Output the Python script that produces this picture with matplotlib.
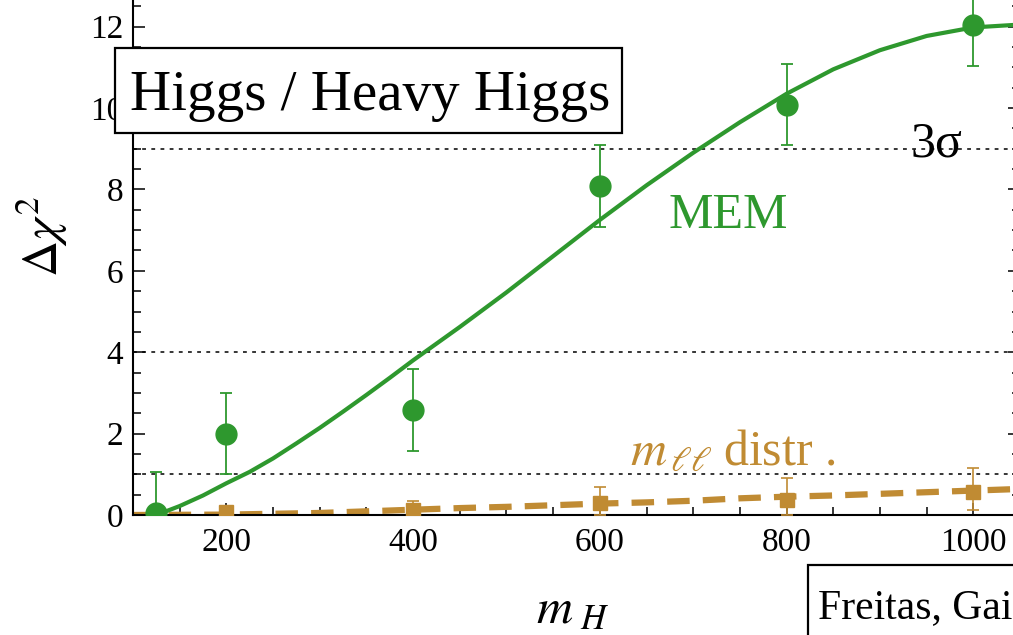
import numpy as np
import matplotlib
matplotlib.use('Agg')
import matplotlib.pyplot as plt
from matplotlib.patches import Rectangle

plt.rcParams['font.family'] = ['Liberation Serif', 'DejaVu Serif']
plt.rcParams['mathtext.fontset'] = 'stix'

# pontos MEM (verde)
mem_x = [125, 200, 400, 600, 800, 1000]
mem_y = [0.05, 2.0, 2.58, 8.08, 10.08, 12.03]
mem_err = [1.0, 1.0, 1.0, 1.0, 1.0, 1.0]

# curva ajustada MEM
fit_x = [125, 150, 175, 200, 225, 250, 275, 300, 325, 350, 375, 400, 450, 500,
         550, 600, 650, 700, 750, 800, 850, 900, 950, 1000, 1050]
fit_y = [0.0, 0.22, 0.48, 0.78, 1.06, 1.39, 1.76, 2.14, 2.54, 2.95, 3.37, 3.8,
         4.62, 5.47, 6.36, 7.25, 8.1, 8.9, 9.65, 10.35, 10.95, 11.42, 11.77,
         11.98, 12.05]

# pontos m_ll (laranja)
mll_x = [125, 200, 400, 600, 800, 1000]
mll_y = [0.02, 0.07, 0.13, 0.29, 0.37, 0.57]
mll_err_lo = [0.02, 0.07, 0.13, 0.29, 0.37, 0.45]
mll_err_hi = [0.1, 0.15, 0.22, 0.39, 0.53, 0.58]

# curva tracejada m_ll
mfit_x = [100, 200, 250, 300, 350, 400, 450, 500, 550, 600, 650, 700, 750, 800,
          850, 900, 950, 1000, 1050]
mfit_y = [0.0, 0.01, 0.03, 0.05, 0.09, 0.13, 0.17, 0.2, 0.24, 0.28, 0.31, 0.35,
          0.41, 0.45, 0.48, 0.52, 0.56, 0.6, 0.64]

# linhas de referencia
sigma_lines = [1, 4, 9]

verde = '#2e982e'
laranja = '#c08b33'

fig = plt.figure(figsize=(10.13, 6.35), dpi=100)
ax = fig.add_axes([133/1013, 120/635, 887/1013, 13*40.7/635])

for s in sigma_lines:
    ax.axhline(s, color='black', lw=1.1, ls=(0, (2.5, 3.5)), zorder=1)

ax.plot(mfit_x, mfit_y, color=laranja, lw=4.5, dashes=(3.6, 2.1), zorder=2)
ax.errorbar(mll_x, mll_y, yerr=[mll_err_lo, mll_err_hi], fmt='s', color=laranja,
            ms=10, elinewidth=1.2, capsize=4, capthick=1.2, zorder=3)

ax.plot(fit_x, fit_y, color=verde, lw=3, zorder=4)
ax.errorbar(mem_x, mem_y, yerr=mem_err, fmt='o', color=verde, ms=15,
            elinewidth=1.3, capsize=4.5, capthick=1.3, zorder=5)

ax.set_xlim(100, 1050)
ax.set_ylim(0, 13)
ax.set_xticks([200, 400, 600, 800, 1000])
ax.set_xticks(np.arange(100, 1051, 50), minor=True)
ax.set_yticks([0, 2, 4, 6, 8, 10, 12])
ax.set_yticks(np.arange(0, 13.01, 0.5), minor=True)
ax.tick_params(which='both', direction='in', right=True, top=False, width=1.1,
               labelsize=24)
ax.tick_params(which='major', length=8.5)
ax.tick_params(which='minor', length=5.5)
ax.tick_params(axis='y', pad=7)
ax.tick_params(axis='x', pad=9)
ax.spines['top'].set_visible(False)
for sp in ['left', 'bottom', 'right']:
    ax.spines[sp].set_linewidth(1.5)

ax.text(737, 7.05, 'MEM', color=verde, fontsize=36, ha='center', va='baseline')
ax.text(960, 8.8, '3σ', color='black', fontsize=36, ha='center', va='baseline')
ax.text(632, 1.23, r'$m_{\,\ell\ell}\;$distr .', color=laranja, fontsize=36,
        ha='left', va='baseline')

# rotulos dos eixos
fig.text(42/1013, 1 - 237/635, r'$\Delta\chi^2$', fontsize=36, rotation=90,
         ha='center', va='center')
fig.text(573/1013, 1 - 623/635, r'$m_{\ H}$', fontsize=36, ha='center', va='baseline')

# caixa do titulo
fig.patches.append(Rectangle((115/1013, 1 - 133/635), 507/1013, 85/635,
                             transform=fig.transFigure, fill=True, fc='white',
                             ec='black', lw=1.6, zorder=10))
fig.text(130/1013, 1 - 110/635, 'Higgs / Heavy Higgs', fontsize=41,
         ha='left', va='baseline', zorder=11)

# caixa dos autores (cortada na borda)
fig.patches.append(Rectangle((808/1013, -0.05), 0.3, (635 - 565)/635 + 0.05,
                             transform=fig.transFigure, fill=True, fc='white',
                             ec='black', lw=1.6, zorder=10))
fig.text(818/1013, 1 - 618/635, 'Freitas, Gai', fontsize=30,
         ha='left', va='baseline', zorder=11)

plt.savefig('out.png', dpi=100)
